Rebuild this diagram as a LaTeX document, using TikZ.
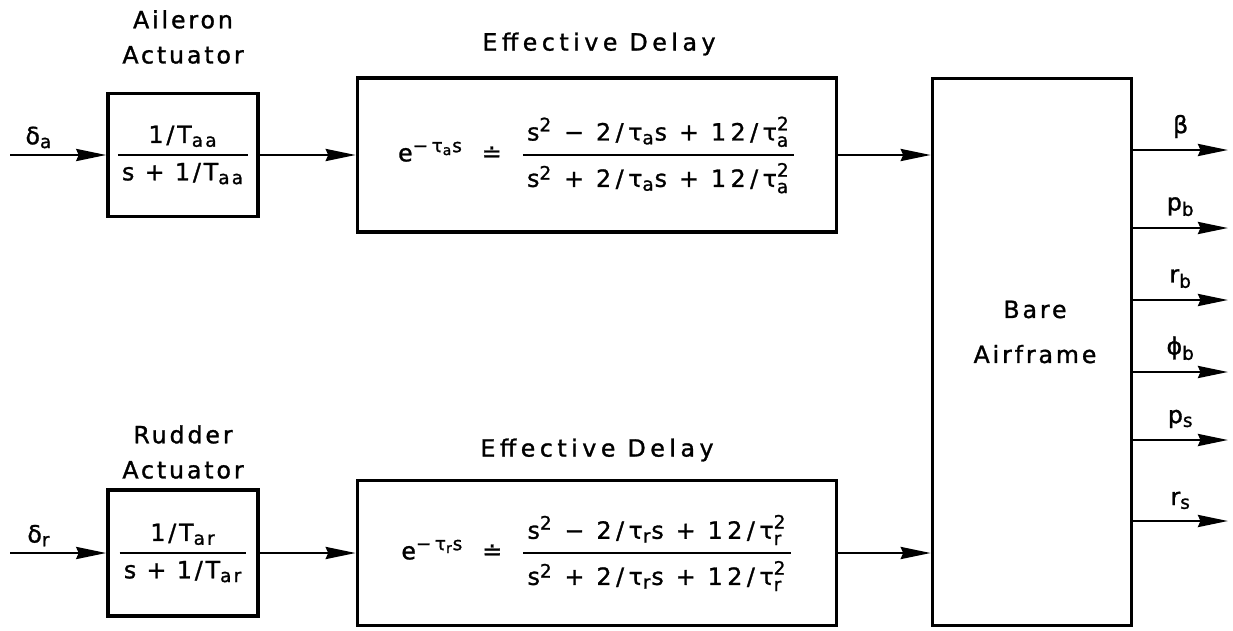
\documentclass[tikz,border=0pt]{standalone}
\usepackage{amsmath}
\usepackage{fontspec}
\setmainfont{DejaVu Sans}[LetterSpace=12, FakeBold=1.2]
\usetikzlibrary{arrows.meta}

% 上下标不要缩得太小
\DeclareMathSizes{13.5}{13.5}{10.5}{8}

% 文字用 \text 包起来,才是无衬线体
\newcommand{\tm}[1]{\text{#1}}
% 分数线粗一点
\newcommand{\fr}[2]{\genfrac{}{}{1.3pt}{0}{\,#1\,}{\,#2\,}}

\tikzset{
  blk/.style={draw, line width=2pt, inner sep=0pt},
  sig/.style={line width=1.6pt, -{Stealth[length=6mm,width=2.4mm,inset=0.5mm]}},
  lbl/.style={font=\fontsize{13.5}{20}\selectfont, align=center, inner sep=1pt},
  wide/.style={font=\fontsize{13.5}{20}\selectfont\addfontfeature{LetterSpace=19}},
}

\begin{document}
\begin{tikzpicture}[x=0.2mm, y=-0.2mm]  % 1 个单位 = 原图 1 个像素, y 向下

  % 固定画布大小
  \useasboundingbox (0,0) rectangle (1233,630);

  % 上面一行:副翼作动器 + 等效延迟
  \node[blk, lbl, minimum width=3cm, minimum height=2.46cm] (ail) at (183,155)
    {$\fr{\tm{1/T}_{\tm{aa}}}{\tm{s + 1/T}_{\tm{aa}}}$};
  \node[blk, lbl, wide, minimum width=9.58cm, minimum height=3.08cm] (dla) at (597,155)
    {$\tm{e}^{\tm{−τ}_{\tm{a}}\tm{s}}\;\ \tm{≐}\;\ \fr{\tm{s}^{\tm{2}}\tm{ − 2/τ}_{\tm{a}}\tm{s + 12/τ}^{\tm{2}}_{\tm{a}}}{\tm{s}^{\tm{2}}\tm{ + 2/τ}_{\tm{a}}\tm{s + 12/τ}^{\tm{2}}_{\tm{a}}}$};

  % 下面一行:方向舵作动器 + 等效延迟
  \node[blk, lbl, minimum width=3cm, minimum height=2.52cm] (rud) at (183,553)
    {$\fr{\tm{1/T}_{\tm{ar}}}{\tm{s + 1/T}_{\tm{ar}}}$};
  \node[blk, lbl, wide, minimum width=9.58cm, minimum height=2.9cm] (dlr) at (597,553)
    {$\tm{e}^{\tm{−τ}_{\tm{r}}\tm{s}}\;\ \tm{≐}\;\ \fr{\tm{s}^{\tm{2}}\tm{ − 2/τ}_{\tm{r}}\tm{s + 12/τ}^{\tm{2}}_{\tm{r}}}{\tm{s}^{\tm{2}}\tm{ + 2/τ}_{\tm{r}}\tm{s + 12/τ}^{\tm{2}}_{\tm{r}}}$};

  % 右边的大方框
  \node[blk, minimum width=3.98cm, minimum height=10.94cm] (af) at (1032,352) {};
  \node[lbl, font=\fontsize{13.5}{25.6}\selectfont] (aft) at (1035,332) {Bare\\Airframe};

  % 方框上方的标题
  \node[lbl] (ailt) at (183,37) {Aileron\\Actuator};
  \node[lbl, wide] (dlat) at (599,44) {Effective Delay};
  \node[lbl] (rudt) at (183,452) {Rudder\\Actuator};
  \node[lbl, wide] (dlrt) at (597,450) {Effective Delay};

  % 输入箭头
  \coordinate (ina) at (10,155);
  \coordinate (inr) at (10,553);
  \draw[sig] (ina) -- node[lbl, above=2pt, pos=0.3] {δ$_{\tm{a}}$} (ail);
  \draw[sig] (inr) -- node[lbl, above=2pt, pos=0.3] {δ$_{\tm{r}}$} (rud);

  % 中间的箭头
  \draw[sig] (ail) -- (dla);
  \draw[sig] (rud) -- (dlr);
  \draw[sig] (dla.east) -- (dla.east -| af.west);
  \draw[sig] (dlr.east) -- (dlr.east -| af.west);

  % 输出箭头,标签放在箭头上方
  \coordinate (o1) at (1228,150);
  \coordinate (o2) at (1228,228);
  \coordinate (o3) at (1228,300);
  \coordinate (o4) at (1228,372);
  \coordinate (o5) at (1228,440);
  \coordinate (o6) at (1228,521);
  \draw[sig] (af.east |- o1) -- node[lbl, above=5pt] {β} (o1);
  \draw[sig] (af.east |- o2) -- node[lbl, above=5pt] {p$_{\tm{b}}$} (o2);
  \draw[sig] (af.east |- o3) -- node[lbl, above=5pt] {r$_{\tm{b}}$} (o3);
  \draw[sig] (af.east |- o4) -- node[lbl, above=5pt] {ϕ$_{\tm{b}}$} (o4);
  \draw[sig] (af.east |- o5) -- node[lbl, above=5pt] {p$_{\tm{s}}$} (o5);
  \draw[sig] (af.east |- o6) -- node[lbl, above=5pt] {r$_{\tm{s}}$} (o6);

\end{tikzpicture}
\end{document}
